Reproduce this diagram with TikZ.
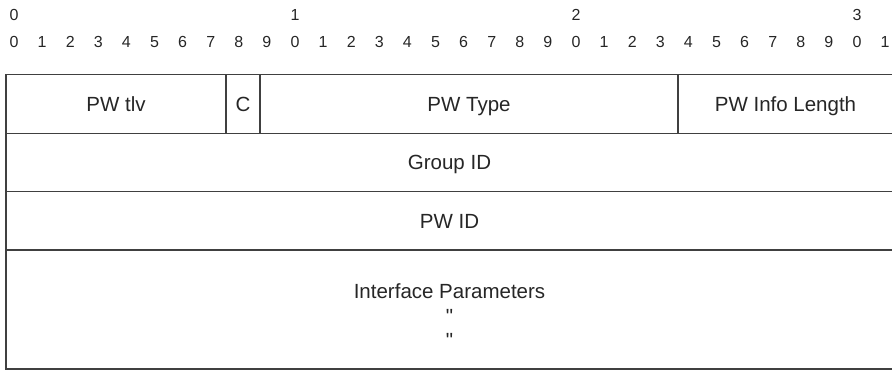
\documentclass[tikz,border=0pt]{standalone}
\usepackage{fontspec}
\setmainfont{Liberation Sans}
\newfontfamily\plainsans[Ligatures=ResetAll]{Liberation Sans}
\newcommand{\dittomark}{{\plainsans\symbol{34}}}
\usepackage{tikz}
\usetikzlibrary{positioning, calc}

\begin{document}
\begin{tikzpicture}[
  x=1pt, y=-1pt,
  labelfont/.style={text=black!85, font=\fontsize{20.5}{24.5}\selectfont},
  field/.style={labelfont, draw=black!75, line width=1.3pt, inner sep=0pt,
                minimum height=58.6pt, text height=14.8pt, text depth=0pt},
  notes/.style={labelfont, inner sep=0pt, align=center, anchor=north},
  bitnum/.style={anchor=base, inner sep=0pt, text=black!85,
                 font=\fontsize{16}{19}\selectfont}
]
\useasboundingbox (0,0) rectangle (892,370);

% bit ruler
\foreach \d [count=\i from 0] in {0,1,2,3}
  \node[bitnum] (top\i) at (14+281*\i, 20.7) {\d};
\foreach \b in {0,...,31}{
  \pgfmathtruncatemacro{\digit}{mod(\b,10)}
  \node[bitnum] (bit\b) at (14+28.1*\b, 47.3) {\digit};
}

% first word
\node[field, minimum width=220pt] (tlv)  at (116,  103.9) {PW tlv};
\node[field, minimum width=34pt]  (cbit) at (243,  103.9) {C};
\node[field, minimum width=418pt] (type) at (469,  103.9) {PW Type};
\node[field, minimum width=215pt] (len)  at (785.5,103.9) {PW Info Length};

% following words
\node[field, minimum width=887pt] (grp)  at (449.5,162.5) {Group ID};
\node[field, minimum width=887pt] (pwid) at (449.5,220.9) {PW ID};
\node[field, minimum width=887pt, minimum height=119pt] (ifp) at (449.5,309.5) {};
\node[notes] (ifptxt) at ($(ifp.north)+(0,34.5)$)
  {Interface Parameters\\\dittomark\\\dittomark};

\end{tikzpicture}
\end{document}
